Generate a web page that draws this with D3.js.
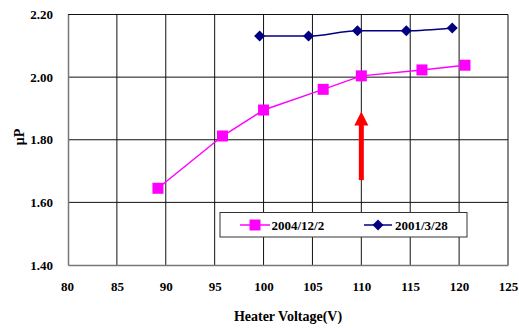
<!DOCTYPE html>
<html>
<head>
<meta charset="utf-8">
<script src="https://cdn.jsdelivr.net/npm/d3@7"></script>
<style>
  body { margin: 0; background: #fff; }
  text { font-family: "Liberation Serif", "Times New Roman", serif; font-weight: bold; }
</style>
</head>
<body>
<div id="chart"></div>
<script>
const voltage2004 = [89.2, 95.8, 100.0, 106.1, 110.0, 116.2, 120.6];
const mu2004 = [1.645, 1.812, 1.895, 1.961, 2.004, 2.023, 2.038];
const voltage2001 = [99.6, 104.6, 109.6, 114.6, 119.3];
const mu2001 = [2.131, 2.131, 2.148, 2.148, 2.157];
const xTicks = [80, 85, 90, 95, 100, 105, 110, 115, 120, 125];
const yTicks = [1.4, 1.6, 1.8, 2.0, 2.2];
const seriesNames = ["2004/12/2", "2001/3/28"];
const arrowAt = { x: 110, from: 1.671, to: 1.89 };

const width = 519, height = 328,
  plotLeft = 68, plotRight = 508, plotTop = 14.5, plotBottom = 265;

const svg = d3.select("#chart").append("svg").attr("width", width).attr("height", height);

const x = d3.scaleLinear().domain([80, 125]).range([plotLeft, plotRight]);
const y = d3.scaleLinear().domain([1.4, 2.2]).range([plotBottom, plotTop]);

// grid
let grid = svg.append("g");
grid.selectAll(".vg").data(xTicks.slice(1)).enter().append("line")
  .attr("x1", (d) => x(d)).attr("x2", (d) => x(d)).attr("y1", plotTop).attr("y2", plotBottom)
  .attr("stroke", "#111").attr("stroke-width", 1);
grid.selectAll(".hg").data(yTicks.slice(1)).enter().append("line")
  .attr("x1", plotLeft).attr("x2", plotRight).attr("y1", (d) => y(d)).attr("y2", (d) => y(d))
  .attr("stroke", "#111").attr("stroke-width", 1);

// axes
const xAxis = svg.append("g").attr("transform", `translate(0,${plotBottom})`)
  .call(d3.axisBottom(x).tickValues(xTicks).tickSize(0).tickPadding(17).tickFormat(d3.format("d")));
const yAxis = svg.append("g").attr("transform", `translate(${plotLeft},0)`)
  .call(d3.axisLeft(y).tickValues(yTicks).tickSize(0).tickPadding(15).tickFormat(d3.format(".2f")));
[xAxis, yAxis].forEach((a) => {
  a.select(".domain").attr("stroke", "#777").attr("stroke-width", 1.5);
  a.selectAll("text").attr("font-size", 13).attr("fill", "#000")
    .style("font-family", "Liberation Serif").style("font-weight", "bold");
});
xAxis.selectAll(".tick").filter((d) => d == 80).select("text").attr("dx", -1);

svg.append("text").attr("x", 288).attr("y", 321).attr("text-anchor", "middle")
  .attr("font-size", 14).text("Heater Voltage(V)");
svg.append("text").attr("transform", "translate(24,137) rotate(-90)").attr("text-anchor", "middle")
  .attr("font-size", 14).text("μP");

// series
const line = d3.line().x((d) => x(d[0])).y((d) => y(d[1]));
const pts2004 = voltage2004.map((v, i) => [v, mu2004[i]]);
const pts2001 = voltage2001.map((v, i) => [v, mu2001[i]]);

svg.append("path").datum(pts2004).attr("d", line).attr("fill", "none")
  .attr("stroke", "#ff00ff").attr("stroke-width", 1.5);
svg.append("g").selectAll("rect").data(pts2004).enter().append("rect")
  .attr("x", (d) => x(d[0]) - 5.5).attr("y", (d) => y(d[1]) - 5.5)
  .attr("width", 11).attr("height", 11).attr("fill", "#ff00ff");

svg.append("path").datum(pts2001).attr("d", line.curve(d3.curveMonotoneX)).attr("fill", "none")
  .attr("stroke", "#000080").attr("stroke-width", 1.5);
const diamond = (cx, cy, r) => `M${cx},${cy - r}L${cx + r},${cy}L${cx},${cy + r}L${cx - r},${cy}Z`;
svg.append("g").selectAll("path").data(pts2001).enter().append("path")
  .attr("d", (d) => diamond(x(d[0]), y(d[1]), 5.5)).attr("fill", "#000080");

// arrow
const ax = x(arrowAt.x), ay0 = y(arrowAt.from), ay1 = y(arrowAt.to);
svg.append("rect").attr("x", ax - 2.5).attr("y", ay1 + 12).attr("width", 5).attr("height", ay0 - ay1 - 12)
  .attr("fill", "#ff0000");
svg.append("path").attr("d", `M${ax},${ay1}L${ax + 7},${ay1 + 14}L${ax - 7},${ay1 + 14}Z`).attr("fill", "#ff0000");

// legend
let legend = svg.append("g");
legend.append("rect").attr("x", 220).attr("y", 212.5).attr("width", 247).attr("height", 24.5)
  .attr("fill", "#fff").attr("stroke", "#333").attr("stroke-width", 1);
legend.append("line").attr("x1", 240).attr("x2", 270).attr("y1", 225).attr("y2", 225)
  .attr("stroke", "#ff00ff").attr("stroke-width", 1.5);
legend.append("rect").attr("x", 249.5).attr("y", 219.5).attr("width", 11).attr("height", 11).attr("fill", "#ff00ff");
legend.append("text").attr("x", 271.5).attr("y", 230).attr("font-size", 13).text(seriesNames[0]);
legend.append("line").attr("x1", 364).attr("x2", 392).attr("y1", 225).attr("y2", 225)
  .attr("stroke", "#000080").attr("stroke-width", 1.5);
legend.append("path").attr("d", diamond(378, 225, 5.5)).attr("fill", "#000080");
legend.append("text").attr("x", 395).attr("y", 230).attr("font-size", 13).text(seriesNames[1]);
</script>
</body>
</html>
